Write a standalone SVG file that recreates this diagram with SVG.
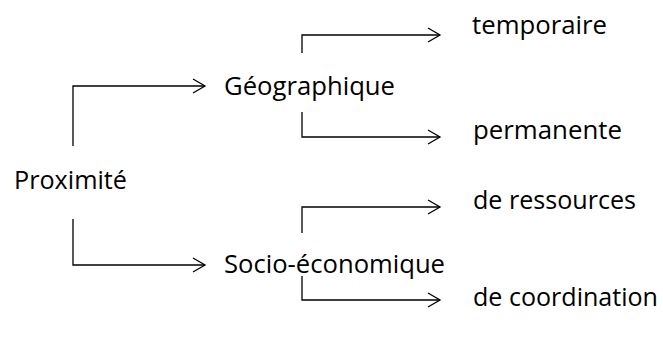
<svg xmlns="http://www.w3.org/2000/svg" width="663" height="338" viewBox="0 0 663 338">
<defs>
<marker id="arr" markerUnits="userSpaceOnUse" markerWidth="16" markerHeight="16" refX="12" refY="7" orient="auto" overflow="visible">
<path d="M0,0 L12,7 L0,14" fill="none" stroke="#000" stroke-width="1.3"/>
</marker>
<style>
.t{font-family:"Open Sans","Liberation Sans",sans-serif;font-size:26px;fill:#000}
.c{fill:none;stroke:#000;stroke-width:1.3;marker-end:url(#arr)}
</style>
</defs>
<rect width="663" height="338" fill="#fff"/>
<g id="connectors">
<path class="c" d="M73,146 V86 H205"/>
<path class="c" d="M73,219 V265 H205"/>
<path class="c" d="M302,53 V35 H440"/>
<path class="c" d="M302,112 V137 H440"/>
<path class="c" d="M302,233 V207 H440"/>
<path class="c" d="M302,276 V300 H440"/>
</g>
<g id="proximite"><text class="t" x="14" y="189" textLength="113" lengthAdjust="spacingAndGlyphs">Proximité</text></g>
<g id="geographique"><text class="t" x="224" y="95" textLength="171" lengthAdjust="spacingAndGlyphs">Géographique</text></g>
<g id="socio"><text class="t" x="224" y="273" textLength="221" lengthAdjust="spacingAndGlyphs">Socio-économique</text></g>
<g id="temporaire"><text class="t" x="472" y="34" textLength="135" lengthAdjust="spacingAndGlyphs">temporaire</text></g>
<g id="permanente"><text class="t" x="473" y="139" textLength="149" lengthAdjust="spacingAndGlyphs">permanente</text></g>
<g id="ressources"><text class="t" x="473" y="209" textLength="163" lengthAdjust="spacingAndGlyphs">de ressources</text></g>
<g id="coordination"><text class="t" x="473" y="306" style="font-size:25.5px" textLength="185" lengthAdjust="spacingAndGlyphs">de coordination</text></g>
</svg>
